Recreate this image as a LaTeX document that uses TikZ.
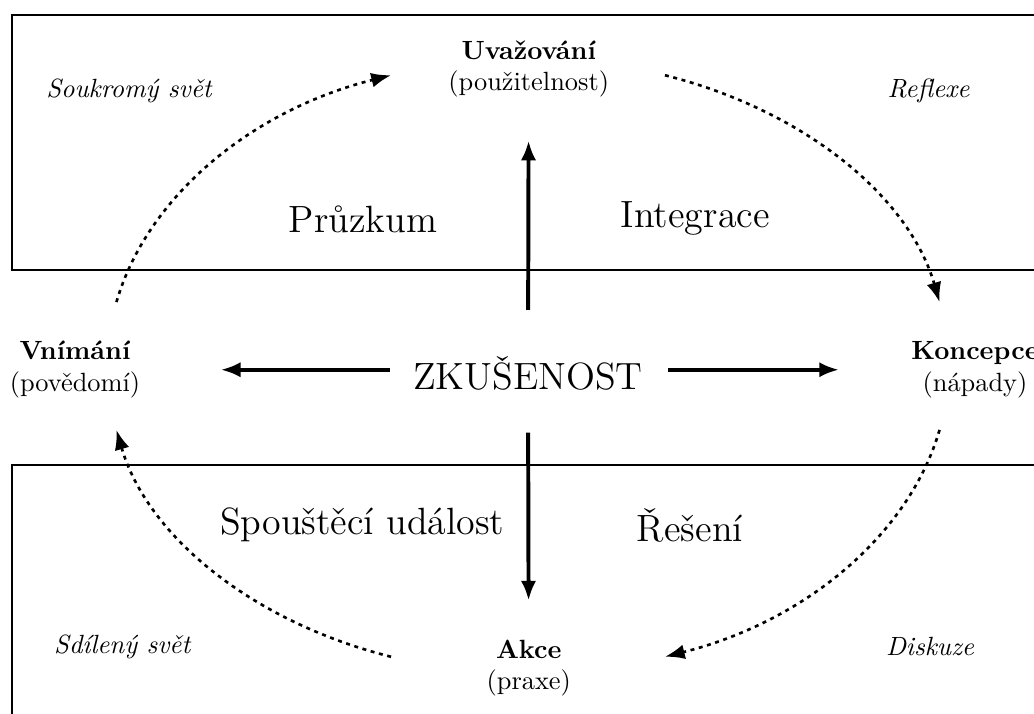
\documentclass[tikz,border=0pt]{standalone}
\usepackage{fontspec}
\usetikzlibrary{arrows.meta}

\begin{document}
\begin{tikzpicture}[
            bigarrow/.style={-{Latex[length=7.5pt,width=5.8pt]}, line width=1.5pt},
            cyclearrow/.style={-{Latex}, line width=1pt, dash pattern=on 1.5pt off 1.75pt},
            phase/.style={align=center},
            world/.style={font=\itshape},
            stage/.style={font=\Large}]
            \useasboundingbox (0,0) rectangle (13.787,-9.507);
            \clip (0,0) rectangle (13.787,-9.507);

            % the two worlds
            \draw (0.16,-0.2) rectangle (14.5,-3.6);
            \draw (0.16,-6.2) rectangle (14.5,-10.2);

            \coordinate (mid) at (7.04,-4.88);
            \node[stage] (zk) at (7.04,-4.98) {ZKUŠENOST};

            \node[phase] (uvazovani) at (7.05,-0.92) {\textbf{Uvažování}\\(použitelnost)};
            \node[phase] (vnimani) at (1.0,-4.93) {\textbf{Vnímání}\\(povědomí)};
            \node[phase] (koncepce) at (13.0,-4.93) {\textbf{Koncepce}\\(nápady)};
            \node[phase] (akce) at (7.05,-8.91) {\textbf{Akce}\\(praxe)};

            \node[world] (soukromy) at (1.72,-1.21) {Soukromý svět};
            \node[world] (reflexe) at (12.38,-1.21) {Reflexe};
            \node[world] (sdileny) at (1.63,-8.62) {Sdílený svět};
            \node[world] (diskuze) at (12.4,-8.62) {Diskuze};

            \node[stage] (pruzkum) at (4.84,-2.93) {Průzkum};
            \node[stage] (integrace) at (9.27,-2.91) {Integrace};
            \node[stage] (spoustec) at (4.83,-7.0) {Spouštěcí událost};
            \node[stage] (reseni) at (9.2,-7.0) {Řešení};

            % arrows out of the experience
            \draw[bigarrow, shorten <=0.5cm, shorten >=0.45cm] (zk) -- (uvazovani);
            \draw[bigarrow, shorten <=0.44cm, shorten >=0.4cm] (zk) -- (akce);
            \draw[bigarrow, shorten <=0.19cm, shorten >=0.95cm] (zk.west |- vnimani) -- (vnimani);
            \draw[bigarrow, shorten <=0.21cm, shorten >=0.84cm] (zk.east |- koncepce) -- (koncepce);

            % the cycle
            \foreach \s/\e in {168/109, 71/12, -12/-71, -109/-168}
                \draw[cyclearrow] ([shift={(\s:5.61 and 4.1)}]mid) arc[start angle=\s, end angle=\e, x radius=5.61, y radius=4.1];
        \end{tikzpicture}
\end{document}
